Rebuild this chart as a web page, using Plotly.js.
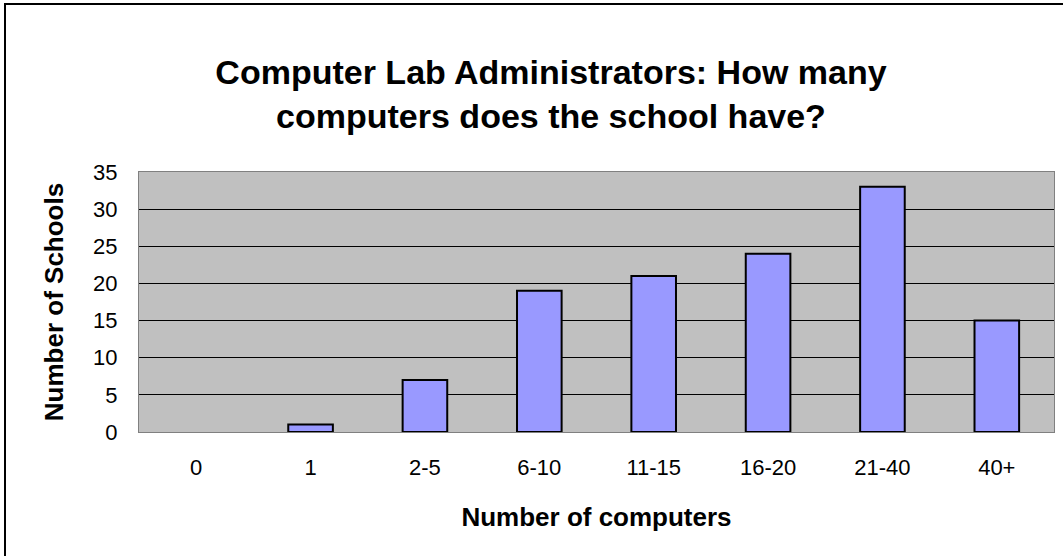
<!DOCTYPE html>
<html>
<head>
<meta charset="utf-8">
<script src="https://cdn.plot.ly/plotly-3.0.1.min.js"></script>
<style>
html,body{margin:0;padding:0;background:#fff;}
#wrap{position:relative;width:1063px;height:556px;overflow:hidden;}
#frame{position:absolute;left:4px;top:3px;width:1200px;height:700px;border-left:2px solid #000;border-top:2px solid #000;pointer-events:none;z-index:5;}
#chart{position:absolute;left:0;top:0;width:1063px;height:556px;}
</style>
</head>
<body>
<div id="wrap">
<div id="chart"></div>
<div id="frame"></div>
</div>
<script>
const categories = ["0","1","2-5","6-10","11-15","16-20","21-40","40+"];
const schools = [0, 1, 7, 19, 21, 24, 33, 15];
const titleText = "Computer Lab Administrators: How many<br>computers does the school have?";
const xTitle = "Number of computers";
const yTitle = "Number of Schools";

const font = "Liberation Sans, Arial, sans-serif";
Plotly.newPlot('chart', [{
  type: 'bar',
  x: categories,
  y: schools,
  marker: {color: '#9999FF', line: {color: '#000000', width: schools.map(v => v === 0 ? 0 : 2)}},
  hoverinfo: 'skip'
}], {
  width: 1063, height: 556,
  margin: {l: 139, r: 9, t: 172, b: 124},
  paper_bgcolor: '#ffffff',
  plot_bgcolor: '#C0C0C0',
  bargap: 0.61,
  showlegend: false,
  font: {family: font, color: '#000'},
  title: {
    text: '<b>' + titleText + '</b>',
    font: {family: font, size: 34, color: '#000'},
    x: 551/1063, xref: 'container', xanchor: 'center',
    y: 1 - 84/556, yref: 'container', yanchor: 'top'
  },
  xaxis: {
    type: 'category',
    tickfont: {size: 22, family: font},
    ticks: '', showgrid: false, zeroline: false,
    ticklabelstandoff: 16,
    showline: true, linecolor: '#808080', linewidth: 1, mirror: true,
    title: {text: '<b>' + xTitle + '</b>', font: {size: 26, family: font}, standoff: 28}
  },
  yaxis: {
    range: [0, 35], dtick: 5,
    tickfont: {size: 22, family: font},
    ticks: '', ticklen: 0,
    ticklabelstandoff: 16,
    showgrid: true, gridcolor: '#000000', gridwidth: 1,
    zeroline: false,
    showline: true, linecolor: '#808080', linewidth: 1, mirror: true,
    title: {text: '<b>' + yTitle + '</b>', font: {size: 26, family: font}, standoff: 22}
  }
}, {staticPlot: true, displayModeBar: false});
</script>
</body>
</html>
